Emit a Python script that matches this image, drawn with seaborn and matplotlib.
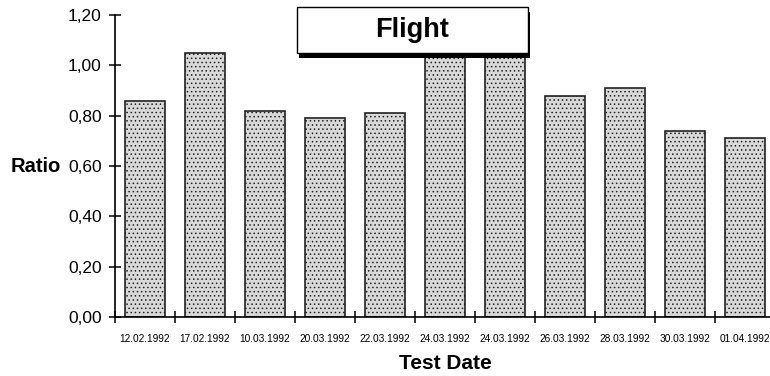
import numpy as np
import pandas as pd
import matplotlib
matplotlib.use("Agg")
import matplotlib.pyplot as plt
from matplotlib.patches import Rectangle
from matplotlib.ticker import FuncFormatter, FixedLocator
import seaborn as sns

# Ratio per test date (flight tests, 1992)
test_dates = ["12.02.1992", "17.02.1992", "10.03.1992", "20.03.1992", "22.03.1992",
              "24.03.1992", "24.03.1992", "26.03.1992", "28.03.1992", "30.03.1992",
              "01.04.1992"]
ratios = [0.86, 1.05, 0.82, 0.79, 0.81, 1.08, 1.08, 0.88, 0.91, 0.74, 0.71]
y_ticks = [0.0, 0.2, 0.4, 0.6, 0.8, 1.0, 1.2]
title = "Flight"

sns.set_theme(style="white")
plt.rcParams["font.family"] = ["Liberation Sans", "DejaVu Sans"]
plt.rcParams["text.color"] = "black"
plt.rcParams["axes.labelcolor"] = "black"
plt.rcParams["xtick.color"] = "black"
plt.rcParams["ytick.color"] = "black"
plt.rcParams["hatch.color"] = "#6a6a6a"
plt.rcParams["hatch.linewidth"] = 0.6

df = pd.DataFrame({"test": np.arange(len(ratios)), "ratio": ratios})

fig = plt.figure(figsize=(7.7, 3.76), dpi=100)
ax = fig.add_axes([115 / 770, 1 - 317 / 376, 660 / 770, 302 / 376])

sns.barplot(data=df, x="test", y="ratio", ax=ax, color="#d9d9d9",
            width=0.667, edgecolor="#222222", linewidth=1.2, saturation=1)
for bar in ax.patches:
    bar.set_hatch("....")

ax.set_xlim(-0.5, len(ratios) - 0.5)
ax.set_ylim(0, 1.2)

# y axis
ax.yaxis.set_major_locator(FixedLocator(y_ticks))
ax.yaxis.set_major_formatter(FuncFormatter(lambda v, _: f"{v:.2f}".replace(".", ",")))
ax.tick_params(axis="y", direction="inout", length=9, width=1.1,
               labelsize=12.5, pad=5, left=True)

# x axis: labels at bar centres, tick marks between categories
ax.set_xticks(range(len(test_dates)))
ax.set_xticklabels(test_dates)
ax.tick_params(axis="x", which="major", length=0, labelsize=7.3, pad=12)
ax.set_xticks(np.arange(-0.5, len(test_dates)), minor=True)
ax.tick_params(axis="x", which="minor", direction="inout", length=9, width=1.1,
               bottom=True)

for side in ["top", "right"]:
    ax.spines[side].set_visible(False)
for side in ["left", "bottom"]:
    ax.spines[side].set_color("black")
    ax.spines[side].set_linewidth(1.2)

ax.set_ylabel("Ratio", rotation=0, fontsize=14.5, fontweight="bold",
              ha="center", va="center")
ax.yaxis.set_label_coords(-0.12, 0.5)
ax.set_xlabel("Test Date", fontsize=15, fontweight="bold", va="center")
ax.xaxis.set_label_coords(0.5, -0.155)

# title box with drop shadow
bx, by, bw, bh = 297, 7, 231, 46
fig.add_artist(Rectangle(((bx + 2) / 770, 1 - (by + bh + 5) / 376), bw / 770, bh / 376,
                         transform=fig.transFigure, facecolor="black",
                         edgecolor="none", zorder=5))
fig.add_artist(Rectangle((bx / 770, 1 - (by + bh) / 376), bw / 770, bh / 376,
                         transform=fig.transFigure, facecolor="white",
                         edgecolor="black", linewidth=1.0, zorder=6))
fig.text((bx + bw / 2) / 770, 1 - (by + bh / 2) / 376, title, ha="center",
         va="center", fontsize=19.5, fontweight="bold", color="black", zorder=7)

fig.savefig("out.png", dpi=100)
